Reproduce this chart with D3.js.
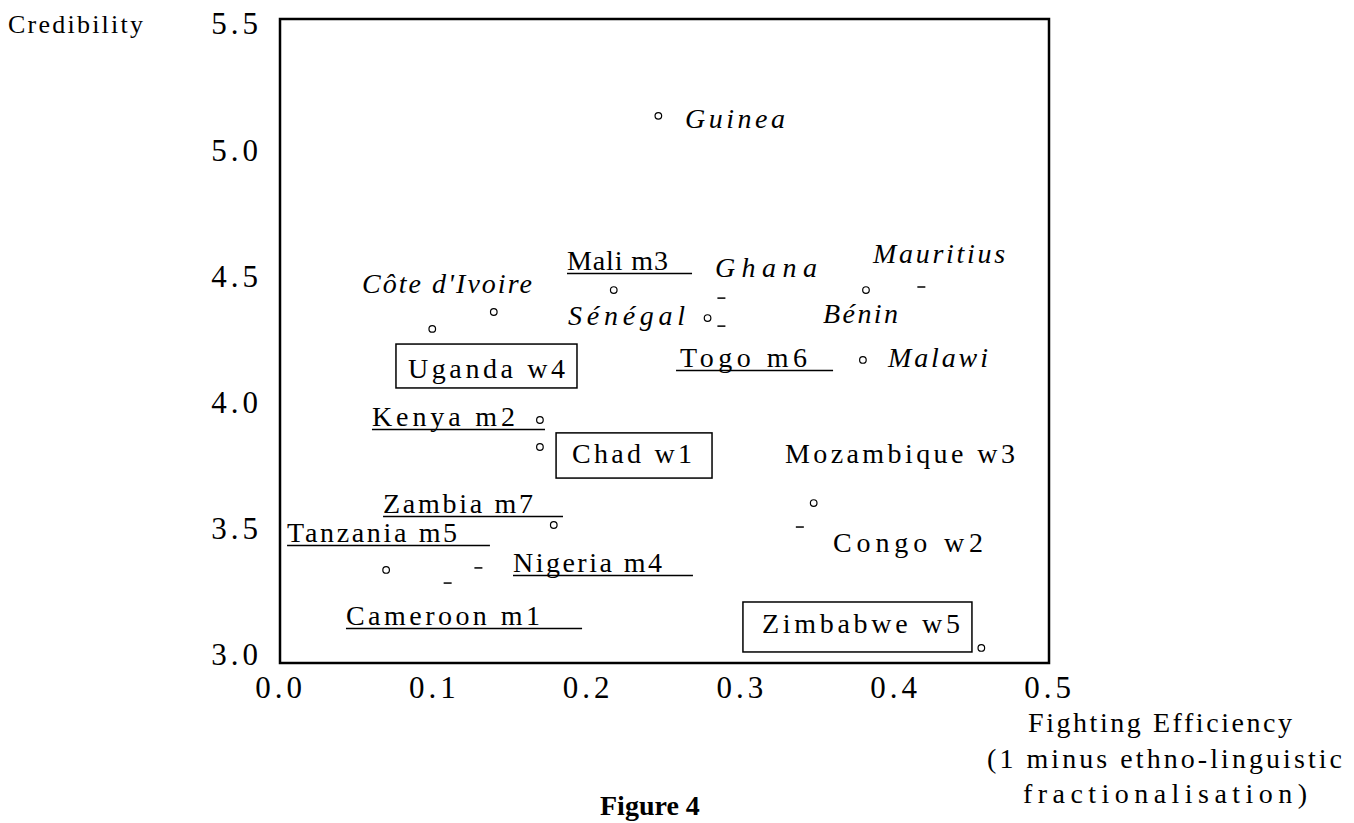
<!DOCTYPE html>
<html>
<head>
<meta charset="utf-8">
<script src="https://cdn.jsdelivr.net/npm/d3@7"></script>
<style>
  body { margin: 0; background: #fff; }
  text { font-family: "Liberation Serif", "Times New Roman", serif; fill: #000; }
</style>
</head>
<body>
<div id="svg-container"></div>
<script>
// data
const circleNames = ["Guinea", "Mali", "Côte d'Ivoire", "Uganda", "Sénégal", "Bénin", "Malawi",
    "Kenya", "Chad", "Zambia", "Tanzania", "Mozambique", "Zimbabwe"];
const circleX = [0.246, 0.217, 0.139, 0.099, 0.278, 0.381, 0.379, 0.169, 0.169, 0.178, 0.069, 0.347, 0.456];
const circleY = [5.136, 4.446, 4.359, 4.292, 4.335, 4.446, 4.169, 3.931, 3.824, 3.515, 3.337, 3.602, 3.028];
const dashX = [0.287, 0.287, 0.417, 0.129, 0.109, 0.338];
const dashY = [4.414, 4.303, 4.458, 3.345, 3.285, 3.507];
const xTicks = [0, 0.1, 0.2, 0.3, 0.4, 0.5];
const yTicks = [3, 3.5, 4, 4.5, 5, 5.5];
const labelText = ["Guinea", "Mali m3", "Côte d'Ivoire", "Ghana", "Mauritius", "Sénégal", "Bénin",
    "Uganda w4", "Togo m6", "Malawi", "Kenya m2", "Chad w1", "Mozambique w3", "Zambia m7",
    "Tanzania m5", "Nigeria m4", "Congo w2", "Cameroon m1", "Zimbabwe w5"];

// label layout (anchor in chart units, text width in px, style)
const labelLayout = [
    { x: 0.2633, y: 5.088, w: 100, s: "i" },
    { x: 0.1866, y: 4.525, w: 101, s: "u", ue: 0.2679 },
    { x: 0.0533, y: 4.434, w: 170, s: "i" },
    { x: 0.2828, y: 4.498, w: 102, s: "i" },
    { x: 0.3856, y: 4.553, w: 132, s: "i" },
    { x: 0.1873, y: 4.307, w: 117, s: "i" },
    { x: 0.3531, y: 4.315, w: 75, s: "i" },
    { x: 0.0832, y: 4.097, w: 157, s: "b", box: [0.0754, 0.1931, 4.232, 4.058] },
    { x: 0.2601, y: 4.141, w: 127, s: "u", us: 0.2575, ue: 0.3596 },
    { x: 0.3953, y: 4.141, w: 100, s: "i" },
    { x: 0.0598, y: 3.907, w: 143, s: "u", ue: 0.1723 },
    { x: 0.1899, y: 3.761, w: 120, s: "b", box: [0.1795, 0.2809, 3.880, 3.701] },
    { x: 0.3283, y: 3.761, w: 230, s: "p" },
    { x: 0.0670, y: 3.563, w: 150, s: "u", ue: 0.1840 },
    { x: 0.0046, y: 3.448, w: 170, s: "u", ue: 0.1365 },
    { x: 0.1515, y: 3.329, w: 149, s: "u", ue: 0.2685 },
    { x: 0.3596, y: 3.408, w: 150, s: "p" },
    { x: 0.0429, y: 3.119, w: 194, s: "u", ue: 0.1964 },
    { x: 0.3134, y: 3.087, w: 198, s: "b", box: [0.3010, 0.4499, 3.210, 3.012] }
];

const width = 1354, height = 823;
const frame = { left: 280, top: 19, right: 1049, bottom: 663 };

const svg = d3.select("#svg-container").append("svg")
    .attr("width", width)
    .attr("height", height);

const x = d3.scaleLinear().domain([0, 0.5]).range([frame.left, frame.right]);
const y = d3.scaleLinear().domain([3, 5.5]).range([655, 24]);

// plot frame
svg.append("rect")
    .attr("x", frame.left)
    .attr("y", frame.top)
    .attr("width", frame.right - frame.left)
    .attr("height", frame.bottom - frame.top)
    .attr("fill", "none")
    .attr("stroke", "#000")
    .attr("stroke-width", 2.5);

// axes (labels only)
const yAxis = svg.append("g")
    .attr("transform", "translate(262,0)")
    .call(d3.axisLeft(y).tickValues(yTicks).tickSize(0).tickPadding(0).tickFormat(d3.format(".1f")));
const xAxis = svg.append("g")
    .attr("transform", `translate(0,${frame.bottom})`)
    .call(d3.axisBottom(x).tickValues(xTicks).tickSize(0).tickPadding(13).tickFormat(d3.format(".1f")));
[yAxis, xAxis].forEach(g => {
    g.select(".domain").remove();
    g.selectAll("text")
        .style("font-family", "'Liberation Serif', serif")
        .style("font-size", "31px")
        .style("letter-spacing", "4px")
        .attr("fill", "#000");
});

// axis titles
svg.append("text")
    .attr("x", 8).attr("y", 33)
    .attr("textLength", 135)
    .style("font-size", "26px")
    .text("Credibility");

const xTitle = ["Fighting Efficiency", "(1 minus ethno-linguistic", "fractionalisation)"];
const xTitleX = [1028, 987, 1023];
const xTitleW = [264, 355, 284];
const xTitleY = [732, 768, 803];
xTitle.forEach((t, i) => {
    svg.append("text")
        .attr("x", xTitleX[i]).attr("y", xTitleY[i])
        .attr("textLength", xTitleW[i])
        .style("font-size", "28px")
        .text(t);
});

svg.append("text")
    .attr("x", 600).attr("y", 815)
    .style("font-size", "28px")
    .style("font-weight", "bold")
    .text("Figure 4");

// markers
svg.selectAll("circle.pt")
    .data(circleX)
    .join("circle")
    .attr("class", "pt")
    .attr("cx", (d, i) => x(d))
    .attr("cy", (d, i) => y(circleY[i]))
    .attr("r", 3.3)
    .attr("fill", "#fff")
    .attr("stroke", "#000")
    .attr("stroke-width", 1.2);

svg.selectAll("line.dash")
    .data(dashX)
    .join("line")
    .attr("class", "dash")
    .attr("x1", d => x(d) - 4)
    .attr("x2", d => x(d) + 4)
    .attr("y1", (d, i) => y(dashY[i]))
    .attr("y2", (d, i) => y(dashY[i]))
    .attr("stroke", "#000")
    .attr("stroke-width", 1.5);

// country labels
labelText.forEach((t, i) => {
    const l = labelLayout[i];
    if (l.s === "b") {
        svg.append("rect")
            .attr("x", x(l.box[0]))
            .attr("y", y(l.box[2]))
            .attr("width", x(l.box[1]) - x(l.box[0]))
            .attr("height", y(l.box[3]) - y(l.box[2]))
            .attr("fill", "none")
            .attr("stroke", "#000")
            .attr("stroke-width", 1.5);
    }
    svg.append("text")
        .attr("x", x(l.x))
        .attr("y", y(l.y))
        .attr("textLength", l.w)
        .attr("lengthAdjust", "spacing")
        .style("font-size", "28px")
        .style("font-style", l.s === "i" ? "italic" : "normal")
        .text(t);
    if (l.s === "u") {
        svg.append("line")
            .attr("x1", x(l.us !== undefined ? l.us : l.x))
            .attr("x2", x(l.ue))
            .attr("y1", y(l.y) + 3.5)
            .attr("y2", y(l.y) + 3.5)
            .attr("stroke", "#000")
            .attr("stroke-width", 1.5);
    }
});
</script>
</body>
</html>
